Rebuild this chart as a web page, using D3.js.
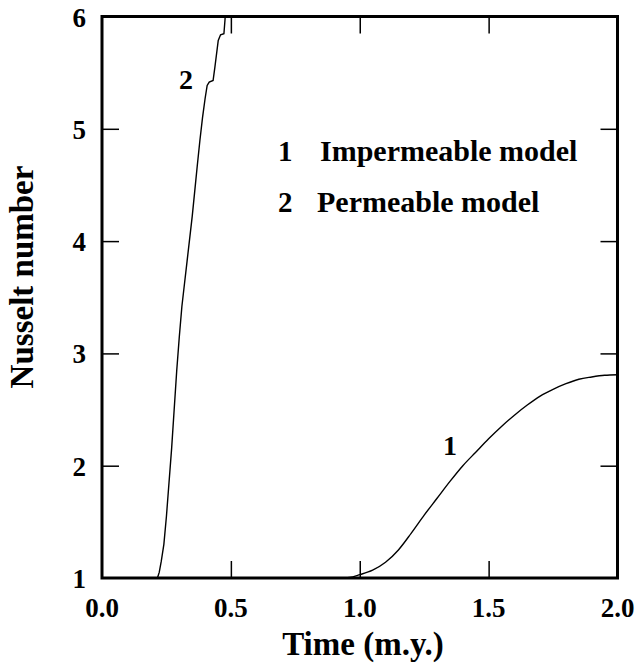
<!DOCTYPE html>
<html>
<head>
<meta charset="utf-8">
<script src="https://cdn.jsdelivr.net/npm/d3@7"></script>
<style>
  body { margin: 0; background: #fff; }
  text { font-family: "Liberation Serif", "Times New Roman", serif; font-weight: bold; fill: #000; }
</style>
</head>
<body>
<div id="chart"></div>
<script>
// values
var xTicks = [0.0, 0.5, 1.0, 1.5, 2.0];
var yTicks = [1, 2, 3, 4, 5, 6];

// curve 1 : impermeable model
var impTime = [0.0, 0.5, 0.9, 0.93, 0.96, 1.0, 1.05, 1.1, 1.15, 1.2, 1.25, 1.3, 1.35, 1.4, 1.45, 1.5, 1.55, 1.6, 1.65, 1.7, 1.75, 1.8, 1.85, 1.9, 1.95, 2.0];
var impNu   = [1.0, 1.0, 1.0, 1.0, 1.005, 1.03, 1.07, 1.14, 1.25, 1.40, 1.56, 1.71, 1.86, 2.0, 2.12, 2.24, 2.35, 2.45, 2.54, 2.62, 2.68, 2.73, 2.77, 2.79, 2.805, 2.81];

// curve 2 : permeable model
var perTime = [0.0, 0.215, 0.222, 0.23, 0.24, 0.25, 0.26, 0.27, 0.28, 0.29, 0.30, 0.31, 0.32, 0.33, 0.34, 0.35, 0.36, 0.37, 0.38, 0.39, 0.40, 0.408, 0.416, 0.431, 0.438, 0.451, 0.46, 0.473, 0.477, 0.478];
var perNu   = [1.0, 1.0, 1.05, 1.15, 1.3, 1.55, 1.85, 2.15, 2.5, 2.85, 3.15, 3.42, 3.62, 3.82, 4.02, 4.22, 4.45, 4.68, 4.90, 5.10, 5.27, 5.386, 5.416, 5.43, 5.55, 5.786, 5.837, 5.846, 5.964, 6.0];

var legendNums  = ["1", "2"];
var legendNames = ["Impermeable model", "Permeable model"];

var margin = {top: 16.5, right: 20.5, bottom: 88, left: 102},
    width = 638, height = 666,
    w = width - margin.left - margin.right,
    h = height - margin.top - margin.bottom;

var svg = d3.select("#chart").append("svg")
    .attr("width", width)
    .attr("height", height);

var plot = svg.append("g")
    .attr("transform", "translate(" + margin.left + "," + margin.top + ")");

var x = d3.scaleLinear().domain([0, 2]).range([0, w]);
var y = d3.scaleLinear().domain([1, 6]).range([h, 0]);

var line = d3.line()
    .x(function(d) { return x(d[0]); })
    .y(function(d) { return y(d[1]); });

// curves
plot.append("path")
    .datum(d3.zip(impTime, impNu))
    .attr("d", line.curve(d3.curveMonotoneX))
    .attr("fill", "none")
    .attr("stroke", "#000")
    .attr("stroke-width", 1.4);

plot.append("path")
    .datum(d3.zip(perTime, perNu))
    .attr("d", line.curve(d3.curveLinear))
    .attr("fill", "none")
    .attr("stroke", "#000")
    .attr("stroke-width", 1.4);

// inner ticks on all four sides
var tickLen = 17;
var innerX = xTicks.slice(1, -1), innerY = yTicks.slice(1, -1);

plot.append("g").call(d3.axisTop(x).tickValues(innerX).tickSize(tickLen).tickFormat(""))
    .attr("transform", "translate(0," + h + ")");
plot.append("g").call(d3.axisBottom(x).tickValues(innerX).tickSize(tickLen).tickFormat(""));
plot.append("g").call(d3.axisRight(y).tickValues(innerY).tickSize(tickLen).tickFormat(""));
plot.append("g").call(d3.axisLeft(y).tickValues(innerY).tickSize(tickLen).tickFormat(""))
    .attr("transform", "translate(" + w + ",0)");
plot.selectAll(".domain").remove();
plot.selectAll(".tick line").attr("stroke", "#000").attr("stroke-width", 1.5);

// frame
plot.append("rect")
    .attr("width", w)
    .attr("height", h)
    .attr("fill", "none")
    .attr("stroke", "#000")
    .attr("stroke-width", 3);

// tick labels
plot.selectAll(".xlab").data(xTicks).enter().append("text")
    .attr("x", function(d) { return x(d); })
    .attr("y", h + 39)
    .attr("text-anchor", "middle")
    .style("font-size", "27px")
    .text(function(d) { return d3.format(".1f")(d); });

plot.selectAll(".ylab").data(yTicks).enter().append("text")
    .attr("x", -16)
    .attr("y", function(d) { return y(d) + 10; })
    .attr("text-anchor", "end")
    .style("font-size", "27px")
    .text(function(d) { return d; });

// axis titles
svg.append("text")
    .attr("x", 363)
    .attr("y", 655)
    .attr("text-anchor", "middle")
    .style("font-size", "33px")
    .text("Time (m.y.)");

svg.append("text")
    .attr("transform", "translate(33,277) rotate(-90)")
    .attr("text-anchor", "middle")
    .style("font-size", "33px")
    .text("Nusselt number");

// curve labels
svg.append("text").attr("x", 179).attr("y", 89).style("font-size", "28px").text("2");
svg.append("text").attr("x", 443).attr("y", 455).style("font-size", "28px").text("1");

// legend
var leg = svg.selectAll(".leg").data(legendNums).enter().append("g")
    .attr("transform", function(d, i) { return "translate(278," + (161 + i * 51) + ")"; });
leg.append("text").style("font-size", "29px").text(function(d) { return d; });
leg.append("text")
    .attr("x", function(d, i) { return i === 0 ? 42 : 39; })
    .style("font-size", "30px")
    .text(function(d, i) { return legendNames[i]; });
</script>
</body>
</html>
